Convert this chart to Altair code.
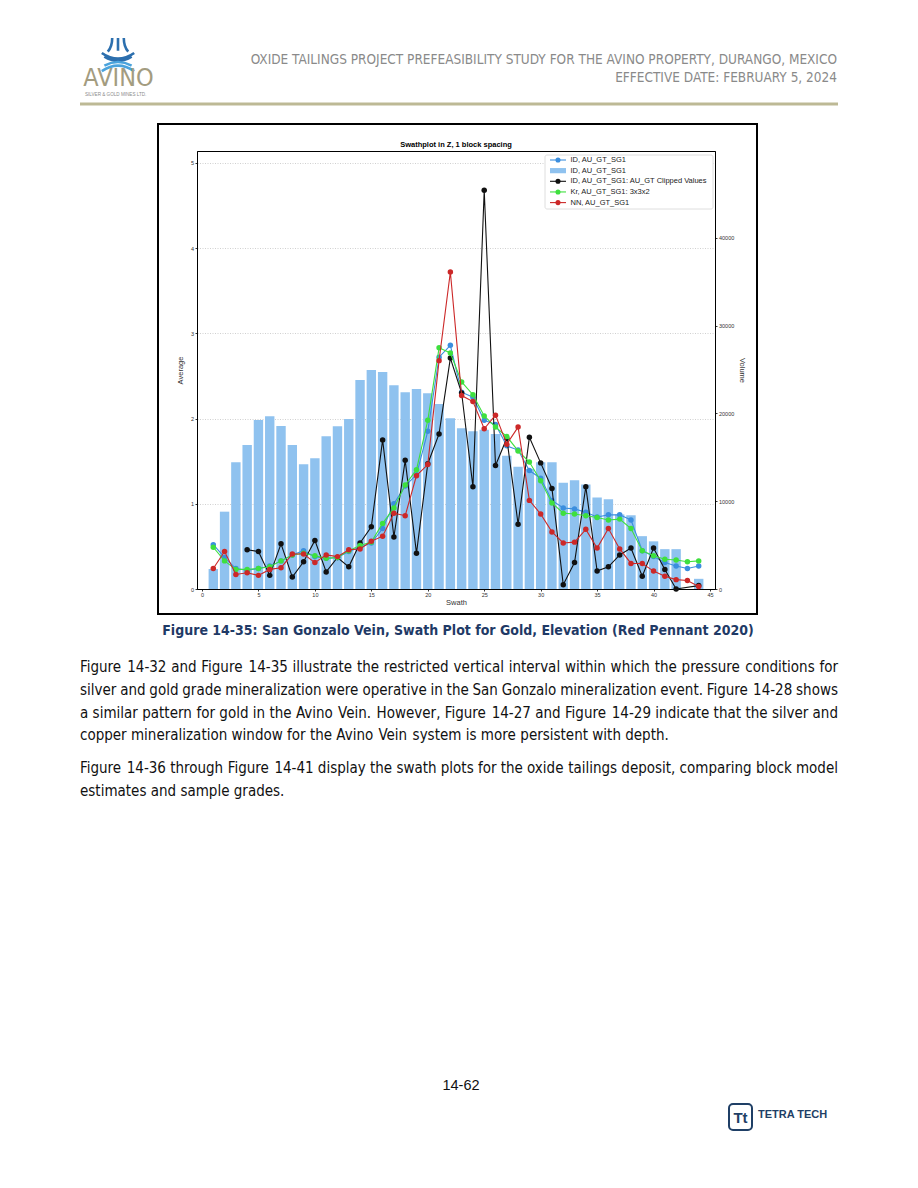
import altair as alt
import pandas as pd

# ---------------- data ----------------
swath = list(range(1, 45))
volume = [2280, 8810, 14430, 16410, 19260, 19670, 18570, 16410, 14200, 14890,
          17390, 18530, 19370, 23810, 24950, 24720, 23200, 22410, 22790, 22290,
          21080, 19450, 18300, 17960, 18150, 17660, 15190, 13940, 13670, 14440,
          14440, 12100, 12400, 11900, 10430, 10220, 8500, 8400, 6020, 5430,
          4540, 4540, None, 1160]
id_avg = [0.52, 0.37, 0.24, 0.22, 0.24, 0.27, 0.33, 0.40, 0.45, 0.38,
          0.36, 0.37, 0.44, 0.49, 0.54, 0.71, 1.00, 1.21, 1.34, 1.85,
          2.72, 2.86, 2.31, 2.25, 1.98, 1.93, 1.68, 1.63, 1.39, 1.30,
          1.04, 0.95, 0.94, 0.90, 0.845, 0.87, 0.87, 0.81, 0.45, 0.38,
          0.31, 0.27, 0.24, 0.27]
clipped_avg = [None, None, None, 0.46, 0.44, 0.16, 0.53, 0.14, 0.32, 0.57,
               0.20, 0.37, 0.26, 0.54, 0.73, 1.75, 0.61, 1.51, 0.42, 1.47,
               1.82, 2.71, 2.30, 1.20, 4.68, 1.45, 1.77, 0.76, 1.78, 1.48,
               1.18, 0.05, 0.31, 1.20, 0.21, 0.26, 0.40, 0.48, 0.15, 0.48,
               0.23, 0.00, None, 0.04]
kr_avg = [0.49, 0.33, 0.23, 0.23, 0.24, 0.26, 0.33, 0.40, 0.42, 0.39,
          0.36, 0.37, 0.45, 0.51, 0.55, 0.77, 0.95, 1.22, 1.40, 1.98,
          2.83, 2.77, 2.43, 2.28, 2.03, 1.90, 1.79, 1.62, 1.49, 1.27,
          1.01, 0.89, 0.88, 0.86, 0.84, 0.81, 0.82, 0.71, 0.45, 0.39,
          0.35, 0.34, 0.32, 0.33]
nn_avg = [0.24, 0.44, 0.17, 0.19, 0.16, 0.23, 0.25, 0.41, 0.41, 0.31,
          0.40, 0.38, 0.46, 0.47, 0.56, 0.62, 0.89, 0.86, 1.33, 1.46,
          2.68, 3.72, 2.27, 2.20, 1.88, 2.04, 1.70, 1.90, 1.04, 0.88,
          0.67, 0.54, 0.55, 0.70, 0.48, 0.71, 0.47, 0.30, 0.30, 0.21,
          0.15, 0.11, 0.10, 0.03]

legend_labels = ["ID, AU_GT_SG1", "ID, AU_GT_SG1",
                 "ID, AU_GT_SG1: AU_GT Clipped Values",
                 "Kr, AU_GT_SG1: 3x3x2", "NN, AU_GT_SG1"]
x_ticks = [0, 5, 10, 15, 20, 25, 30, 35, 40, 45]
left_ticks = [0, 1, 2, 3, 4, 5]
right_ticks = [0, 10000, 20000, 30000, 40000]

chart_title = "Swathplot in Z, 1 block spacing"
header_1 = "OXIDE TAILINGS PROJECT PREFEASIBILITY STUDY FOR THE AVINO PROPERTY, DURANGO, MEXICO"
header_2 = "EFFECTIVE DATE: FEBRUARY 5, 2024"
caption = "Figure 14-35: San Gonzalo Vein, Swath Plot for Gold, Elevation (Red Pennant 2020)"
para_1 = ["Figure 14-32 and Figure 14-35 illustrate the restricted vertical interval within which the pressure conditions for",
          "silver and gold grade mineralization were operative in the San Gonzalo mineralization event. Figure 14-28 shows",
          "a similar pattern for gold in the Avino Vein. However, Figure 14-27 and Figure 14-29 indicate that the silver and",
          "copper mineralization window for the Avino Vein system is more persistent with depth."]
para_2 = ["Figure 14-36 through Figure 14-41 display the swath plots for the oxide tailings deposit, comparing block model",
          "estimates and sample grades."]
page_no = "14-62"

# ---------------- styles ----------------
BAR_C = "#8fc2ef"
BLUE = "#3b8ede"
BLACK = "#111111"
GREEN = "#3ee03e"
RED = "#cc2828"
SANS = "Liberation Sans, Arial, sans-serif"
NARROW = "DejaVu Sans Condensed, sans-serif"

W, H = 518, 438          # plot area
X0, Y0 = 197, 151        # page position of plot origin
PAD_L, PAD_T = X0 - 8, Y0 - 8
TOTAL_W, TOTAL_H = 902, 1165


def rx(x):
    return x - X0


def ry(y):
    return y - Y0


# ---------------- chart ----------------
xscale = alt.Scale(domain=[0, 45], nice=False, zero=False)
x_axis = alt.Axis(values=x_ticks, title="Swath", grid=False, labelPadding=1,
                  titlePadding=1, format="d")
yl_scale = alt.Scale(domain=[0, 5.14], nice=False)
yl_axis = alt.Axis(orient="left", values=left_ticks, title="Average", grid=True,
                   gridDash=[1, 1.5], gridColor="#c4c4c4", gridWidth=0.8,
                   labelPadding=1.5, titlePadding=6, format="d")
yr_axis = alt.Axis(orient="right", values=right_ticks, title="Volume", grid=False,
                   labelPadding=1.5, titlePadding=4, format="d")

bars_df = pd.DataFrame({"swath": swath, "volume": volume}).dropna()
bars = alt.Chart(bars_df).mark_bar(color=BAR_C, size=9.4).encode(
    x=alt.X("swath:Q", scale=xscale, axis=x_axis),
    y=alt.Y("volume:Q", scale=alt.Scale(domain=[0, 49900], nice=False), axis=yr_axis),
)


def series(vals, color):
    df = pd.DataFrame({"swath": swath, "avg": vals}).dropna()
    return alt.Chart(df).mark_line(
        color=color, strokeWidth=1.1,
        point=alt.OverlayMarkDef(filled=True, size=30, color=color, opacity=1),
    ).encode(
        x=alt.X("swath:Q", scale=xscale, axis=x_axis),
        y=alt.Y("avg:Q", scale=yl_scale, axis=yl_axis),
    )


lines = alt.layer(series(id_avg, BLUE), series(clipped_avg, BLACK),
                  series(kr_avg, GREEN), series(nn_avg, RED))

main = alt.layer(bars, lines).resolve_scale(y="independent")


# ---------------- helpers for page decorations ----------------
def one():
    return pd.DataFrame({"t": [""]})


def dtext(text, x, y, size, color="#000000", weight="normal", align="left",
          font=SANS, baseline="middle"):
    return alt.Chart(pd.DataFrame({"t": [text]})).mark_text(
        align=align, baseline=baseline, fontSize=size, font=font,
        fontWeight=weight, color=color,
    ).encode(x=alt.value(x), y=alt.value(y), text="t:N")


def drect(x1, x2, y1, y2, fill=None, stroke=None, sw=1.0, radius=0):
    kw = dict(strokeWidth=sw, cornerRadius=radius)
    if fill is None:
        kw["fillOpacity"] = 0
        kw["fill"] = "#ffffff"
    else:
        kw["fill"] = fill
    if stroke is not None:
        kw["stroke"] = stroke
    return alt.Chart(one()).mark_rect(**kw).encode(
        x=alt.value(x1), x2=alt.value(x2), y=alt.value(y1), y2=alt.value(y2))


def drule(x1, x2, y1, y2, color, sw):
    return alt.Chart(one()).mark_rule(color=color, strokeWidth=sw).encode(
        x=alt.value(x1), x2=alt.value(x2), y=alt.value(y1), y2=alt.value(y2))


# chart frame (border of the embedded figure) and title
frame = drect(rx(158), rx(757), ry(124), ry(614), stroke="#000000", sw=2)
title = dtext(chart_title, W / 2, ry(144.5), 7.5, weight="bold", align="center")

# legend
lg_box = drect(rx(545), rx(713), ry(155), ry(209), fill="#ffffff", stroke="#d6d6d6",
               sw=0.8, radius=2)
leg_colors = [BLUE, BAR_C, BLACK, GREEN, RED]
leg_kind = ["line", "bar", "line", "line", "line"]
leg_rows = []
for i, (lab, col, kind) in enumerate(zip(legend_labels, leg_colors, leg_kind)):
    leg_rows.append(dict(label=lab, color=col, kind=kind, y=ry(160) + 10.65 * i,
                         xa=rx(550), xb=rx(566), xm=rx(558), xt=rx(570.5)))
leg_df = pd.DataFrame(leg_rows)
leg_lines_df = leg_df[leg_df.kind == "line"]
leg_bar_df = leg_df[leg_df.kind == "bar"]
leg_line = alt.Chart(leg_lines_df).mark_rule(strokeWidth=1.1).encode(
    x=alt.X("xa:Q", scale=None), x2="xb:Q", y=alt.Y("y:Q", scale=None),
    color=alt.Color("color:N", scale=None))
leg_pt = alt.Chart(leg_lines_df).mark_circle(size=26, opacity=1).encode(
    x=alt.X("xm:Q", scale=None), y=alt.Y("y:Q", scale=None),
    color=alt.Color("color:N", scale=None))
leg_bar = alt.Chart(leg_bar_df.assign(y1=leg_bar_df.y - 2.6, y2=leg_bar_df.y + 2.6)).mark_rect().encode(
    x=alt.X("xa:Q", scale=None), x2="xb:Q", y=alt.Y("y1:Q", scale=None), y2="y2:Q",
    color=alt.Color("color:N", scale=None))
leg_txt = alt.Chart(leg_df).mark_text(align="left", baseline="middle", fontSize=7.5,
                                      font=SANS, color="#222222").encode(
    x=alt.X("xt:Q", scale=None), y=alt.Y("y:Q", scale=None), text="label:N")

# header
hdr1 = dtext(header_1, rx(837), ry(60), 13.5, color="#8a8a8a", align="right", font=NARROW)
hdr2 = dtext(header_2, rx(837), ry(78), 13.5, color="#8a8a8a", align="right", font=NARROW)
hdr_rule = drule(rx(80), rx(838), ry(104), ry(104), "#bdb995", 3)

# AVINO logo
ICON_LINES = ("M-0.34,-1 C-0.34,-0.62 -0.42,-0.4 -0.6,-0.2 "
              "M0,-1 L0,-0.25 "
              "M0.34,-1 C0.34,-0.62 0.42,-0.4 0.6,-0.2")
ICON_UP = "M-0.95,-0.12 Q0,0.55 0.95,-0.12 M-0.8,0.1 Q0,0.6 0.8,0.1"
ICON_DN = "M-0.8,0.62 Q0,0.2 0.8,0.62 M-0.95,0.95 Q0,0.3 0.95,0.95"
icon_parts = []
for path, col in [(ICON_LINES, "#2c6fae"), (ICON_UP, "#2c6fae"), (ICON_DN, "#4aa3dc")]:
    icon_parts.append(alt.Chart(one()).mark_point(
        shape=path, size=1160, filled=False, strokeWidth=2.6, color=col, opacity=1
    ).encode(x=alt.value(rx(118)), y=alt.value(ry(55))))
avino = dtext("AVINO", rx(118.5), ry(78), 25, color="#a39c80", align="center", font=NARROW)
avino_sub = dtext("SILVER & GOLD MINES LTD.", rx(85), ry(95), 4.6, color="#8c8c8c", font=SANS)

# caption
cap = dtext(caption, rx(458), ry(631), 14, color="#1f3a66", weight="bold",
            align="center", font=NARROW)

# body text, justified word by word (DejaVu Sans widths, 1/2048 em, condensed 0.9)
DW = {' ': 651, ',': 651, '.': 651, '-': 739, ':': 690, '(': 799, ')': 799,
      '0': 1303, '1': 1303, '2': 1303, '3': 1303, '4': 1303, '5': 1303, '6': 1303,
      '7': 1303, '8': 1303, '9': 1303,
      'A': 1401, 'B': 1405, 'C': 1430, 'D': 1577, 'E': 1294, 'F': 1178, 'G': 1589,
      'H': 1540, 'I': 604, 'J': 604, 'K': 1343, 'L': 1141, 'M': 1767, 'N': 1532,
      'O': 1612, 'P': 1235, 'Q': 1612, 'R': 1423, 'S': 1300, 'T': 1251, 'U': 1499,
      'V': 1401, 'W': 2025, 'X': 1403, 'Y': 1251, 'Z': 1403,
      'a': 1255, 'b': 1300, 'c': 1126, 'd': 1300, 'e': 1260, 'f': 721, 'g': 1300,
      'h': 1298, 'i': 569, 'j': 569, 'k': 1186, 'l': 569, 'm': 1995, 'n': 1298,
      'o': 1253, 'p': 1300, 'q': 1300, 'r': 842, 's': 1067, 't': 803, 'u': 1298,
      'v': 1212, 'w': 1675, 'x': 1212, 'y': 1212, 'z': 1075}
BODY_FS = 15.0
BODY_L, BODY_R = rx(80), rx(838)


def tw(s, fs=BODY_FS):
    return sum(DW.get(c, 1300) for c in s) / 2048.0 * fs * 0.9


body_lines = [(para_1[0], 667, True), (para_1[1], 690, True), (para_1[2], 712.5, True),
              (para_1[3], 735, False), (para_2[0], 768, True), (para_2[1], 790.5, False)]
left_rows, right_rows = [], []
for line, yy, justify in body_lines:
    words = line.split(" ")
    widths = [tw(w) for w in words]
    if justify:
        gap = (BODY_R - BODY_L - sum(widths)) / (len(words) - 1)
    else:
        gap = tw(" ")
    xx = BODY_L
    for i, (wd, wv) in enumerate(zip(words, widths)):
        if justify and i == len(words) - 1:
            right_rows.append(dict(x=BODY_R, y=ry(yy), t=wd))
        else:
            left_rows.append(dict(x=xx, y=ry(yy), t=wd))
        xx += wv + gap

body_left = alt.Chart(pd.DataFrame(left_rows)).mark_text(
    align="left", baseline="middle", fontSize=BODY_FS, font=NARROW, color="#111111"
).encode(x=alt.X("x:Q", scale=None), y=alt.Y("y:Q", scale=None), text="t:N")
body_right = alt.Chart(pd.DataFrame(right_rows)).mark_text(
    align="right", baseline="middle", fontSize=BODY_FS, font=NARROW, color="#111111"
).encode(x=alt.X("x:Q", scale=None), y=alt.Y("y:Q", scale=None), text="t:N")

pnum = dtext(page_no, rx(461), ry(1086), 14.5, align="center", font=SANS, color="#111111")

# Tetra Tech logo
tt_box = drect(rx(729), rx(752), ry(1104), ry(1130), fill="#ffffff", stroke="#1f3f66",
               sw=2, radius=4)
tt_mark = dtext("Tt", rx(740.5), ry(1117.5), 15, color="#1f3f66", weight="bold",
                align="center", font=SANS)
tt_txt = dtext("TETRA TECH", rx(758), ry(1114.5), 11, color="#1f3f66", weight="bold",
               font=SANS)

chart = alt.layer(
    main, frame, title, lg_box, leg_line, leg_pt, leg_bar, leg_txt,
    hdr1, hdr2, hdr_rule, *icon_parts, avino, avino_sub,
    cap, body_left, body_right, pnum, tt_box, tt_mark, tt_txt,
).properties(
    width=W, height=H,
    autosize=alt.AutoSizeParams(type="none"),
    padding={"left": PAD_L, "top": PAD_T, "right": TOTAL_W - PAD_L - W,
             "bottom": TOTAL_H - PAD_T - H},
).configure_view(
    stroke="#000000", strokeWidth=1
).configure_axis(
    labelFont=SANS, titleFont=SANS, labelFontSize=5.5, titleFontSize=7.5,
    titleFontWeight="normal", tickSize=2, tickColor="#000000", domainColor="#000000",
    labelColor="#333333", titleColor="#333333", domainWidth=1, tickWidth=0.8,
)

chart.save("out.html", embed_options={"renderer": "svg", "actions": False})
